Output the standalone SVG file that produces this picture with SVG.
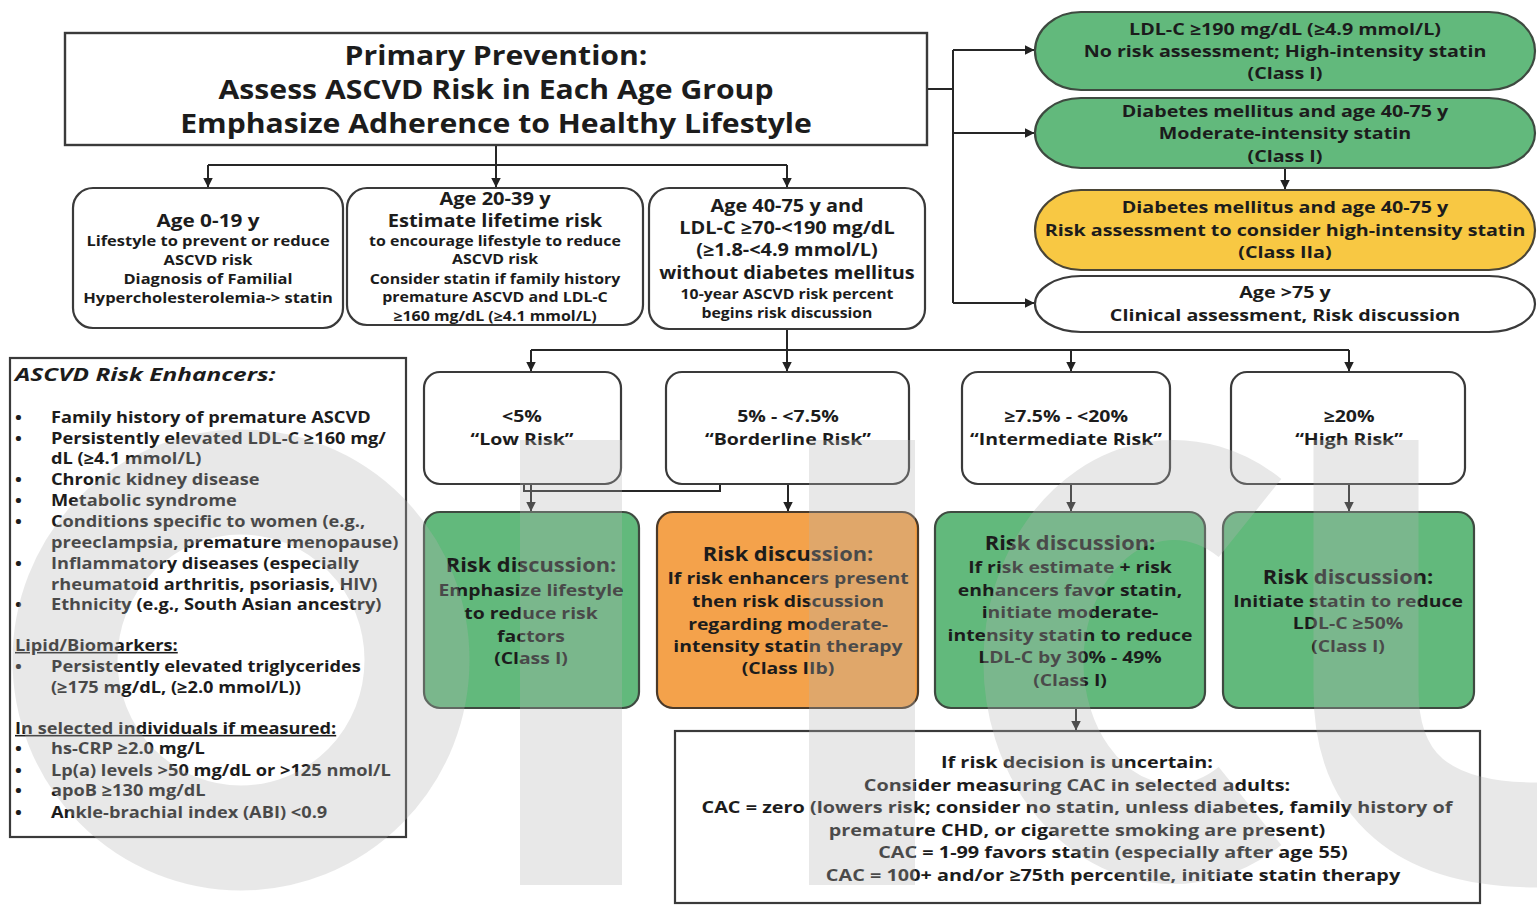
<svg xmlns="http://www.w3.org/2000/svg" width="1537" height="905" viewBox="0 0 1537 905">
  <defs>
    <marker id="ah" markerWidth="10" markerHeight="10" refX="9.5" refY="5" orient="auto" markerUnits="userSpaceOnUse">
      <path d="M0,0 L10,5 L0,10 z" fill="#222"/>
    </marker>
    <style>
      text { font-family: "Open Sans", "Liberation Sans", sans-serif; fill: #1c1c1c; text-anchor: middle; font-weight: 700; }
      .box { fill: #fff; stroke: #3a3a3a; stroke-width: 2.2; }
      .green { fill: #62b97c; stroke: #3e4a40; stroke-width: 2.2; }
      .yellow { fill: #f8c843; stroke: #4a4536; stroke-width: 2.2; }
      .orange { fill: #f4a24b; stroke: #4a3a2a; stroke-width: 2.2; }
      .ln { fill: none; stroke: #262626; stroke-width: 2; }
      .arr { marker-end: url(#ah); }
      .h26 { font-size: 26px; }
      .h17 { font-size: 17px; }
      .s13 { font-size: 13.5px; }
      .s16 { font-size: 16px; }
      .h19 { font-size: 19px; }
      .s15 { font-size: 15.5px; }
      .cac { font-size: 16px; }
      .lst { font-size: 15.5px; text-anchor: start; }
      .under { text-decoration: underline; }
      .mark { fill: #b4b4b4; }
      .markline { fill: none; stroke: #b4b4b4; }
    </style>
  </defs>

  <rect width="1537" height="905" fill="#fff"/>

  <!-- connectors -->
  <g id="connectors">
    <path class="ln" d="M208,165 H787"/>
    <path class="ln arr" d="M208,165 V187"/>
    <path class="ln arr" d="M496,145 V187"/>
    <path class="ln arr" d="M787,165 V187"/>

    <path class="ln" d="M927,89 H953 M953,50 V303"/>
    <path class="ln arr" d="M953,50 H1034"/>
    <path class="ln arr" d="M953,133 H1034"/>
    <path class="ln arr" d="M953,303 H1034"/>
    <path class="ln arr" d="M1285,168 V189"/>

    <path class="ln" d="M787,329 V350 M531,350 H1349"/>
    <path class="ln arr" d="M531,350 V371"/>
    <path class="ln arr" d="M787,350 V371"/>
    <path class="ln arr" d="M1071,350 V371"/>
    <path class="ln arr" d="M1349,350 V371"/>

    <path class="ln" d="M720,484 V491 H524 V484"/>
    <path class="ln arr" d="M531,484 V511"/>
    <path class="ln arr" d="M788,484 V511"/>
    <path class="ln arr" d="M1071,484 V511"/>
    <path class="ln arr" d="M1349,484 V511"/>
    <path class="ln arr" d="M1076,708 V730"/>
  </g>

  <!-- header -->
  <g id="primary-prevention">
    <rect x="65" y="33" width="862" height="112" fill="#fff" stroke="#3a3a3a" stroke-width="2.4"/>
    <g transform="translate(496 0) scale(1.16 1)">
      <text class="h26" x="0" y="65">Primary Prevention:</text>
      <text class="h26" x="0" y="99">Assess ASCVD Risk in Each Age Group</text>
      <text class="h26" x="0" y="133">Emphasize Adherence to Healthy Lifestyle</text>
    </g>
  </g>

  <!-- age groups -->
  <g id="age-0-19">
    <rect class="box" x="73" y="188" width="270" height="140" rx="20"/>
    <g transform="translate(208 0) scale(1.22 1)">
      <text class="h17" x="0" y="227">Age 0-19 y</text>
      <text class="s13" x="0" y="246">Lifestyle to prevent or reduce</text>
      <text class="s13" x="0" y="265">ASCVD risk</text>
      <text class="s13" x="0" y="284">Diagnosis of Familial</text>
      <text class="s13" x="0" y="303">Hypercholesterolemia-&gt; statin</text>
    </g>
  </g>

  <g id="age-20-39">
    <rect class="box" x="347" y="188" width="296" height="137" rx="20"/>
    <g transform="translate(495 0) scale(1.18 1)">
      <text class="h17" x="0" y="205">Age 20-39 y</text>
      <text class="h17" x="0" y="227">Estimate lifetime risk</text>
      <text class="s13" x="0" y="246">to encourage lifestyle to reduce</text>
      <text class="s13" x="0" y="264">ASCVD risk</text>
      <text class="s13" x="0" y="284">Consider statin if family history</text>
      <text class="s13" x="0" y="302">premature ASCVD and LDL-C</text>
      <text class="s13" x="0" y="321">≥160 mg/dL (≥4.1 mmol/L)</text>
    </g>
  </g>

  <g id="age-40-75">
    <rect class="box" x="649" y="188" width="276" height="141" rx="20"/>
    <g transform="translate(787 0) scale(1.17 1)">
      <text class="h17" x="0" y="212">Age 40-75 y and</text>
      <text class="h17" x="0" y="234">LDL-C ≥70-&lt;190 mg/dL</text>
      <text class="h17" x="0" y="256">(≥1.8-&lt;4.9 mmol/L)</text>
      <text class="h17" x="0" y="279">without diabetes mellitus</text>
      <text class="s13" x="0" y="299">10-year ASCVD risk percent</text>
      <text class="s13" x="0" y="318">begins risk discussion</text>
    </g>
  </g>

  <!-- statin groups -->
  <g id="ldl-190">
    <rect class="green" x="1035" y="12" width="500" height="78" rx="46" ry="39"/>
    <g transform="translate(1285 0) scale(1.23 1)">
      <text class="s16" x="0" y="35">LDL-C ≥190 mg/dL (≥4.9 mmol/L)</text>
      <text class="s16" x="0" y="57">No risk assessment; High-intensity statin</text>
      <text class="s16" x="0" y="79">(Class I)</text>
    </g>
  </g>

  <g id="diabetes-moderate">
    <rect class="green" x="1035" y="98" width="500" height="70" rx="46" ry="35"/>
    <g transform="translate(1285 0) scale(1.23 1)">
      <text class="s16" x="0" y="117">Diabetes mellitus and age 40-75 y</text>
      <text class="s16" x="0" y="139">Moderate-intensity statin</text>
      <text class="s16" x="0" y="162">(Class I)</text>
    </g>
  </g>

  <g id="diabetes-high">
    <rect class="yellow" x="1035" y="190" width="500" height="80" rx="46" ry="40"/>
    <g transform="translate(1285 0) scale(1.23 1)">
      <text class="s16" x="0" y="213">Diabetes mellitus and age 40-75 y</text>
      <text class="s16" x="0" y="236">Risk assessment to consider high-intensity statin</text>
      <text class="s16" x="0" y="258">(Class IIa)</text>
    </g>
  </g>

  <g id="age-over-75">
    <rect class="box" x="1035" y="276" width="500" height="56" rx="46" ry="28"/>
    <g transform="translate(1285 0) scale(1.23 1)">
      <text class="s16" x="0" y="298">Age &gt;75 y</text>
      <text class="s16" x="0" y="321">Clinical assessment, Risk discussion</text>
    </g>
  </g>

  <!-- risk categories -->
  <g id="low-risk">
    <rect class="box" x="424" y="372" width="197" height="112" rx="16"/>
    <g transform="translate(522 0) scale(1.22 1)">
      <text class="s16" x="0" y="422">&lt;5%</text>
      <text class="s16" x="0" y="445">“Low Risk”</text>
    </g>
  </g>
  <g id="borderline-risk">
    <rect class="box" x="666" y="372" width="243" height="112" rx="16"/>
    <g transform="translate(788 0) scale(1.22 1)">
      <text class="s16" x="0" y="422">5% - &lt;7.5%</text>
      <text class="s16" x="0" y="445">“Borderline Risk”</text>
    </g>
  </g>
  <g id="intermediate-risk">
    <rect class="box" x="962" y="372" width="208" height="112" rx="16"/>
    <g transform="translate(1066 0) scale(1.22 1)">
      <text class="s16" x="0" y="422">≥7.5% - &lt;20%</text>
      <text class="s16" x="0" y="445">“Intermediate Risk”</text>
    </g>
  </g>
  <g id="high-risk">
    <rect class="box" x="1231" y="372" width="234" height="112" rx="16"/>
    <g transform="translate(1349 0) scale(1.22 1)">
      <text class="s16" x="0" y="422">≥20%</text>
      <text class="s16" x="0" y="445">“High Risk”</text>
    </g>
  </g>

  <!-- risk discussions -->
  <g id="discussion-low">
    <rect class="green" x="424" y="512" width="215" height="196" rx="16"/>
    <g transform="translate(531 0) scale(1.15 1)">
      <text class="h19" x="0" y="572">Risk discussion:</text>
    </g>
    <g transform="translate(531 0) scale(1.25 1)">
      <text class="s15" x="0" y="596">Emphasize lifestyle</text>
      <text class="s15" x="0" y="619">to reduce risk</text>
      <text class="s15" x="0" y="642">factors</text>
      <text class="s15" x="0" y="664">(Class I)</text>
    </g>
  </g>
  <g id="discussion-borderline">
    <rect class="orange" x="657" y="512" width="261" height="196" rx="16"/>
    <g transform="translate(788 0) scale(1.15 1)">
      <text class="h19" x="0" y="561">Risk discussion:</text>
    </g>
    <g transform="translate(788 0) scale(1.25 1)">
      <text class="s15" x="0" y="584">If risk enhancers present</text>
      <text class="s15" x="0" y="607">then risk discussion</text>
      <text class="s15" x="0" y="630">regarding moderate-</text>
      <text class="s15" x="0" y="652">intensity statin therapy</text>
      <text class="s15" x="0" y="674">(Class IIb)</text>
    </g>
  </g>
  <g id="discussion-intermediate">
    <rect class="green" x="935" y="512" width="270" height="196" rx="16"/>
    <g transform="translate(1070 0) scale(1.15 1)">
      <text class="h19" x="0" y="550">Risk discussion:</text>
    </g>
    <g transform="translate(1070 0) scale(1.25 1)">
      <text class="s15" x="0" y="573">If risk estimate + risk</text>
      <text class="s15" x="0" y="596">enhancers favor statin,</text>
      <text class="s15" x="0" y="618">initiate moderate-</text>
      <text class="s15" x="0" y="641">intensity statin to reduce</text>
      <text class="s15" x="0" y="663">LDL-C by 30% - 49%</text>
      <text class="s15" x="0" y="686">(Class I)</text>
    </g>
  </g>
  <g id="discussion-high">
    <rect class="green" x="1223" y="512" width="251" height="196" rx="16"/>
    <g transform="translate(1348 0) scale(1.15 1)">
      <text class="h19" x="0" y="584">Risk discussion:</text>
    </g>
    <g transform="translate(1348 0) scale(1.25 1)">
      <text class="s15" x="0" y="607">Initiate statin to reduce</text>
      <text class="s15" x="0" y="629">LDL-C ≥50%</text>
      <text class="s15" x="0" y="652">(Class I)</text>
    </g>
  </g>

  <!-- coronary artery calcium -->
  <g id="cac">
    <rect x="675" y="731" width="805" height="172" fill="#fff" stroke="#3a3a3a" stroke-width="2.2"/>
    <g transform="translate(1077 0) scale(1.24 1)">
      <text class="cac" x="0" y="768">If risk decision is uncertain:</text>
      <text class="cac" x="0" y="791">Consider measuring CAC in selected adults:</text>
      <text class="cac" x="0" y="813">CAC = zero (lowers risk; consider no statin, unless diabetes, family history of</text>
      <text class="cac" x="0" y="836">premature CHD, or cigarette smoking are present)</text>
    </g>
    <g transform="translate(1113 0) scale(1.24 1)">
      <text class="cac" x="0" y="858">CAC = 1-99 favors statin (especially after age 55)</text>
      <text class="cac" x="0" y="881">CAC = 100+ and/or ≥75th percentile, initiate statin therapy</text>
    </g>
  </g>

  <!-- risk enhancers -->
  <g id="risk-enhancers">
    <rect x="10" y="358" width="396" height="479" fill="#fff" stroke="#3a3a3a" stroke-width="2.2"/>
    <g transform="translate(15 0) scale(1.32 1)">
      <text x="0" y="381" style="font-size:18.5px;font-style:italic;text-anchor:start">ASCVD Risk Enhancers:</text>
    </g>
    <g transform="translate(15 0) scale(1.175 1)">
      <g class="bullets">
        <text class="lst" x="0" y="423">•</text>
        <text class="lst" x="0" y="444">•</text>
        <text class="lst" x="0" y="485">•</text>
        <text class="lst" x="0" y="506">•</text>
        <text class="lst" x="0" y="527">•</text>
        <text class="lst" x="0" y="569">•</text>
        <text class="lst" x="0" y="610">•</text>
        <text class="lst" x="0" y="672">•</text>
        <text class="lst" x="0" y="754">•</text>
        <text class="lst" x="0" y="776">•</text>
        <text class="lst" x="0" y="796">•</text>
        <text class="lst" x="0" y="818">•</text>
      </g>
      <text class="lst" x="30.6" y="423">Family history of premature ASCVD</text>
      <text class="lst" x="30.6" y="444">Persistently elevated LDL-C ≥160 mg/</text>
      <text class="lst" x="30.6" y="464">dL (≥4.1 mmol/L)</text>
      <text class="lst" x="30.6" y="485">Chronic kidney disease</text>
      <text class="lst" x="30.6" y="506">Metabolic syndrome</text>
      <text class="lst" x="30.6" y="527">Conditions specific to women (e.g.,</text>
      <text class="lst" x="30.6" y="548">preeclampsia, premature menopause)</text>
      <text class="lst" x="30.6" y="569">Inflammatory diseases (especially</text>
      <text class="lst" x="30.6" y="590">rheumatoid arthritis, psoriasis, HIV)</text>
      <text class="lst" x="30.6" y="610">Ethnicity (e.g., South Asian ancestry)</text>
      <text class="lst under" x="0" y="651">Lipid/Biomarkers:</text>
      <text class="lst" x="30.6" y="672">Persistently elevated triglycerides</text>
      <text class="lst" x="30.6" y="693">(≥175 mg/dL,  (≥2.0 mmol/L))</text>
      <text class="lst under" x="0" y="734">In selected individuals if measured:</text>
      <text class="lst" x="30.6" y="754">hs-CRP ≥2.0 mg/L</text>
      <text class="lst" x="30.6" y="776">Lp(a) levels &gt;50 mg/dL or &gt;125 nmol/L</text>
      <text class="lst" x="30.6" y="796">apoB ≥130 mg/dL</text>
      <text class="lst" x="30.6" y="818">Ankle-brachial index (ABI) &lt;0.9</text>
    </g>
  </g>

  <!-- faint translucent backdrop marks laid over the lower half -->
  <g id="backdrop" opacity="0.3">
    <ellipse class="markline" cx="241" cy="660" rx="176" ry="178" stroke-width="105"/>
    <rect class="mark" x="520" y="440" width="102" height="445"/>
    <rect class="mark" x="809" y="440" width="106" height="445"/>
    <path class="markline" d="M1250,518 A140,172 0 1 0 1250,806" stroke-width="100"/>
    <path class="markline" d="M1366,440 V690 Q1366,835 1537,835" stroke-width="105"/>
  </g>
</svg>
